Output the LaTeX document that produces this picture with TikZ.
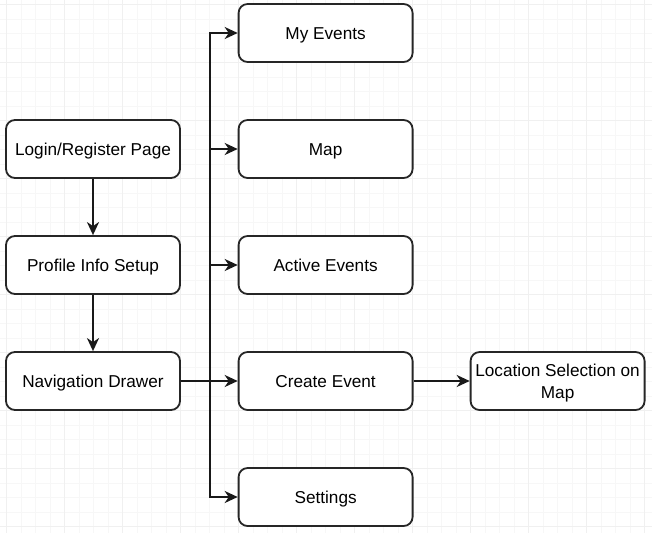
\documentclass[tikz,border=0pt]{standalone}
\usepackage{fontspec}
\setmainfont{Liberation Sans}
\usetikzlibrary{arrows.meta}
\begin{document}
\begin{tikzpicture}[x=1pt,y=-1pt,
  minorgrid/.style={draw=black!3, line width=0.9pt},
  majorgrid/.style={draw=black!6, line width=0.9pt},
  screen/.style={draw=black!85, line width=1.8pt, rounded corners=9pt, fill=white,
    minimum width=174pt, minimum height=58pt, inner sep=2pt, align=center,
    text height=12.3pt, text depth=0pt,
    font=\fontsize{17.2}{21.7}\selectfont},
  twoline/.style={text height=34pt, text depth=0pt},
  link/.style={draw=black!90, line width=1.8pt, -{Stealth[length=13pt,width=12pt,inset=4pt]}}]
\useasboundingbox (0,0) rectangle (652,533);
\fill[white] (0,0) rectangle (652,533);
% grid
\foreach \k in {0,...,44} \draw[minorgrid] ({6.6+14.5*\k},0) -- ({6.6+14.5*\k},533);
\foreach \k in {0,...,36} \draw[minorgrid] (0,{4.5+14.5*\k}) -- (652,{4.5+14.5*\k});
\foreach \k in {0,4,...,44} \draw[majorgrid] ({6.6+14.5*\k},0) -- ({6.6+14.5*\k},533);
\foreach \k in {0,4,...,36} \draw[majorgrid] (0,{4.5+14.5*\k}) -- (652,{4.5+14.5*\k});
% nodes
\node[screen] (login) at (93,149) {Login/Register Page};
\node[screen] (profile) at (93,265) {Profile Info Setup};
\node[screen] (nav) at (93,381) {Navigation Drawer};
\node[screen] (my) at (325.6,33) {My Events};
\node[screen] (map) at (325.6,149) {Map};
\node[screen] (active) at (325.6,265) {Active Events};
\node[screen] (create) at (325.6,381) {Create Event};
\node[screen] (settings) at (325.6,497) {Settings};
\node[screen,twoline] (loc) at (557.6,381) {Location Selection on\\Map};
% connectors
\draw[link] (login) -- (profile);
\draw[link] (profile) -- (nav);
\coordinate (trunk) at (210,381);
\draw[link] (nav.east) -- (trunk) |- (my.west);
\draw[link] (nav.east) -- (trunk) |- (map.west);
\draw[link] (nav.east) -- (trunk) |- (active.west);
\draw[link] (nav.east) -- (create.west);
\draw[link] (nav.east) -- (trunk) |- (settings.west);
\draw[link] (create) -- (loc);
\end{tikzpicture}
\end{document}
